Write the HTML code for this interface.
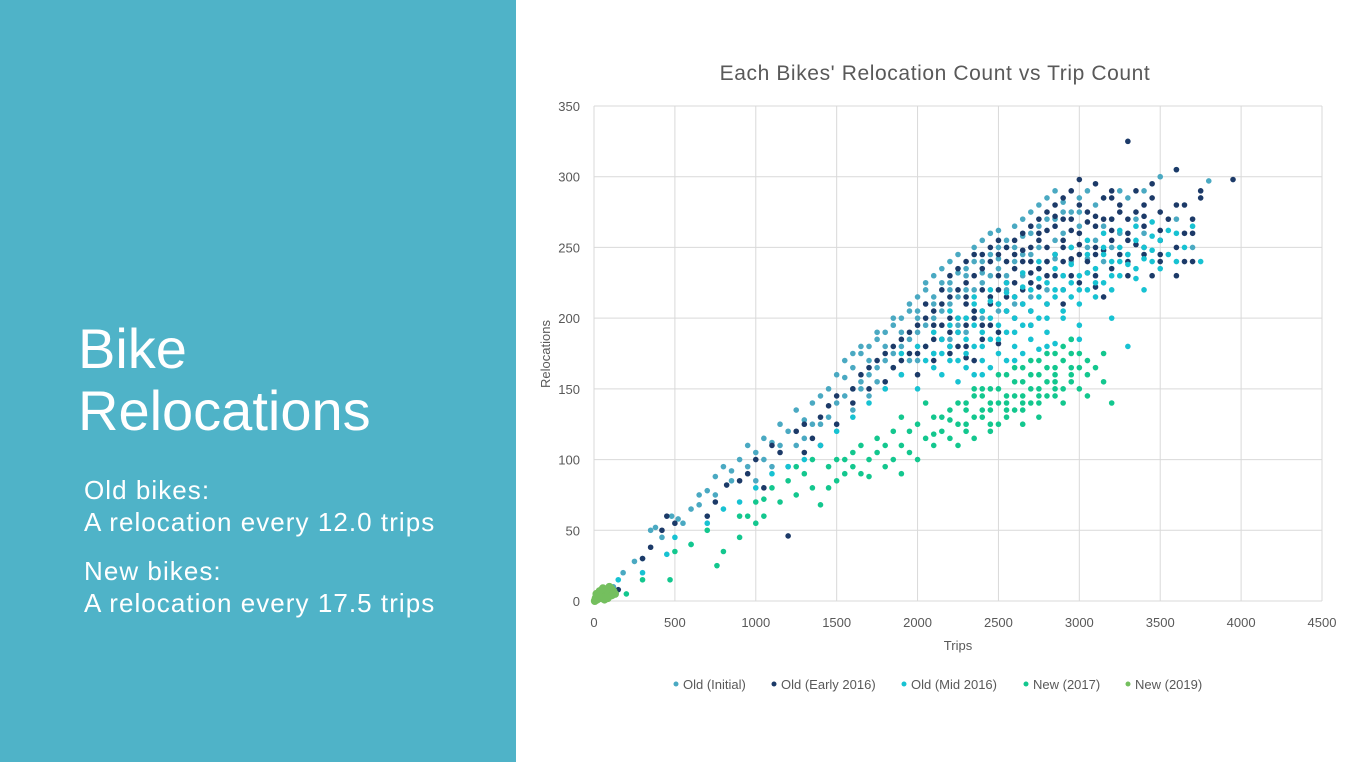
<!DOCTYPE html>
<html><head><meta charset="utf-8"><style>
body{margin:0;width:1358px;height:762px;overflow:hidden;background:#fff;font-family:"Liberation Sans",sans-serif}
#left{position:absolute;left:0;top:0;width:516px;height:762px;background:#4fb3c8;color:#fff}
#chart{position:absolute;left:0;top:0}
</style></head><body>
<div id="left">
<div style="position:absolute;left:78px;top:318px;font-size:56px;line-height:62px;letter-spacing:0px">Bike<br>Relocations</div>
<div style="position:absolute;left:84px;top:474px;font-size:26px;line-height:32px;letter-spacing:1.05px">Old bikes:<br>A relocation every 12.0 trips</div>
<div style="position:absolute;left:84px;top:555px;font-size:26px;line-height:32px;letter-spacing:1.05px">New bikes:<br>A relocation every 17.5 trips</div>
</div>
<svg id="chart" width="1358" height="762"></svg>
<script>
const xTicks=[0,500,1000,1500,2000,2500,3000,3500,4000,4500];
const yTicks=[0,50,100,150,200,250,300,350];
const seriesNames=["Old (Initial)","Old (Early 2016)","Old (Mid 2016)","New (2017)","New (2019)"];
const seriesColors=["#4aa9c2","#1c3a68","#17c2d2","#13c78e","#74bf5e"];
const oldInitial=[[120,10],[180,20],[250,28],[300,30],[350,50],[380,52],[420,45],[480,60],[520,58],[600,65],[650,75],[700,78],[750,88],[800,95],[850,92],[900,100],[950,110],[1000,105],[1050,115],[1100,112],[1150,125],[1200,120],[1250,135],[1300,128],[1350,140],[1400,145],[1450,150],[1500,160],[1550,158],[1600,165],[1650,175],[1700,170],[1750,185],[1800,190],[1850,195],[1900,200],[1950,210],[2000,215],[2050,220],[2100,230],[2150,225],[2200,240],[2250,245],[2300,235],[2350,250],[2400,255],[2450,260],[2500,262],[2550,250],[2600,265],[2650,270],[2700,275],[2750,280],[2800,285],[2850,290],[2900,282],[3000,275],[3100,280],[3200,270],[3300,285],[3400,290],[3500,300],[3600,305],[3800,297],[1300,115],[1400,125],[1500,140],[1550,145],[1600,150],[1650,155],[1700,160],[1750,165],[1800,170],[1850,175],[1900,180],[1950,185],[2000,190],[2050,195],[2100,200],[2150,205],[2200,210],[2250,215],[2300,200],[2350,220],[2400,225],[2450,230],[2500,235],[2550,220],[2600,240],[2650,230],[2700,245],[2750,250],[2800,240],[2850,255],[2900,260],[2950,250],[3000,265],[3050,250],[3100,255],[3150,240],[3200,250],[3300,245],[3400,260],[3500,255],[3600,270],[3700,250],[1800,150],[1900,160],[2000,170],[2100,175],[2200,185],[2300,190],[2400,200],[2500,205],[2600,210],[2700,215],[2800,220],[2900,230],[1700,145],[1600,135],[1200,95],[1100,95],[1000,85],[2000,200],[2100,215],[2200,225],[2300,230],[2400,240],[2500,250],
[1550,170],[1650,180],[1750,190],[1850,200],[1950,205],[2050,225],[2150,235],[2250,232],[2350,240],[2450,245],[2550,255],[2650,258],[2750,265],[2850,270],[2950,275],[3050,290],[3150,285],[3250,290],[1450,130],[1350,125],[1250,110],[1150,110],[1050,100],[950,95],[850,85],[750,75],[650,68],[550,55],[1650,150],[1750,155],[1850,165],[1950,170],[2050,180],[2150,185],[2250,195],[2350,205],[2450,215],[2550,230],[2650,245],[2750,235],[2850,242],[2950,240],[3050,242],[3150,265],[3250,260],[3350,270],[1600,175],[1700,180],[1800,180],[1900,190],[2000,205],[2100,210],[2200,220],[2300,220],[2400,232],[2500,242],[2600,250],[2700,260],[2800,270],[2900,275],[3000,285]];
const oldEarly=[[100,10],[150,8],[300,30],[350,38],[420,50],[450,60],[500,55],[700,60],[750,70],[820,82],[900,85],[950,90],[1000,100],[1050,80],[1100,110],[1150,105],[1200,46],[1250,120],[1300,125],[1350,115],[1400,130],[1450,138],[1500,145],[1600,150],[1650,160],[1700,165],[1750,170],[1800,175],[1850,180],[1900,185],[1950,190],[2000,195],[2050,200],[2100,205],[2150,210],[2200,215],[2250,220],[2300,225],[2350,230],[2400,235],[2450,240],[2500,245],[2550,250],[2600,255],[2650,260],[2700,265],[2750,270],[2800,275],[2850,280],[2900,285],[2950,290],[3000,298],[3100,295],[3200,285],[3300,325],[3400,280],[3500,275],[3600,305],[3650,280],[3700,270],[3950,298],[1900,170],[2000,175],[2100,185],[2200,190],[2300,195],[2400,205],[2500,210],[2600,215],[2700,225],[2800,230],[2900,240],[3000,245],[3100,250],[3200,255],[3300,260],[3400,265],[3500,255],[3600,250],[3650,240],[2000,160],[2100,170],[2200,175],[2300,180],[2400,185],[2500,190],[2600,200],[2700,205],[2800,210],[2900,220],[3000,225],[3100,230],[3200,235],[3300,240],[3400,245],[2200,200],[2300,210],[2400,220],[2500,230],[2600,235],[2700,240],[2800,250],[2900,255],[3000,260],[3100,265],[3200,270],[3300,270],[3400,250],[3500,240],[3600,230],[2250,180],[2350,170],[2450,195],[2550,205],[2650,220],[2750,235],[2850,245],[2950,230],[3050,240],[3150,215],[1800,155],[1700,150],[1600,140],[1500,125],[1400,110],[1300,105],
[2150,185],[2250,200],[2350,205],[2450,215],[2550,225],[2650,240],[2750,255],[2850,265],[2950,270],[3050,275],[3150,285],[3250,275],[3350,290],[3450,285],[3550,270],[3650,260],[3750,285],[2100,195],[2200,180],[2300,215],[2400,195],[2500,220],[2600,225],[2700,232],[2800,240],[2900,250],[3000,252],[3100,245],[3200,262],[3300,255],[3400,272],[3500,262],[3600,280],[3700,260],[3750,290],[2050,180],[2150,195],[2250,190],[2350,200],[2450,210],[2550,215],[2650,210],[2750,222],[2850,230],[2950,242],[3050,232],[3150,248],[3250,245],[3350,252],[3450,230],[2200,230],[2300,240],[2400,245],[2500,255],[2600,245],[2700,250],[2800,262],[2900,270],[3000,280],[3100,272],[3200,290],[1950,175],[1850,165],[2050,210],[2150,220],[2250,235],[2350,245],[2450,250],[2550,240],[2650,248],[2750,260],[2850,272],[2950,262],[3050,268],[3150,270],[3250,280],[3350,275],[3450,295],[2300,172],[2500,182],[2700,195],[2900,210],[3100,222],[3300,230],[3500,245],[3700,240]];
const oldMid=[[150,15],[300,20],[450,33],[500,45],[600,40],[700,55],[800,65],[900,70],[1000,80],[1100,90],[1200,95],[1300,100],[1400,110],[1500,120],[1600,130],[1700,140],[1800,150],[1900,160],[2000,150],[2050,170],[2100,165],[2150,175],[2200,180],[2250,170],[2300,185],[2350,180],[2400,190],[2450,185],[2500,195],[2550,190],[2600,200],[2650,195],[2700,205],[2750,200],[2800,210],[2850,215],[2900,220],[2950,225],[3000,230],[3050,220],[3100,235],[3150,225],[3200,240],[3250,230],[3300,245],[3350,235],[3400,250],[3450,240],[3500,255],[3550,245],[3600,260],[3700,265],[3750,240],[2200,195],[2300,200],[2400,205],[2500,210],[2600,215],[2700,220],[2800,225],[2900,230],[3000,210],[3100,215],[3200,220],[2300,165],[2400,170],[2500,175],[2600,180],[2700,185],[2800,190],[2900,200],[3000,195],[3300,180],[2100,190],[2200,205],[2350,215],[2450,220],[2550,225],[2650,232],[2750,240],[2850,245],[2950,250],[3050,255],[3150,260],[3250,262],[3350,265],[3450,268],[2000,180],[1900,175],[2150,160],[2250,155],[2350,160],[2450,165],[2550,170],[2650,175],[2750,178],[2850,182],[2950,185],
[2150,185],[2250,190],[2350,195],[2450,200],[2550,205],[2650,210],[2750,215],[2850,220],[2950,215],[3050,232],[3150,245],[3250,250],[3350,255],[3450,258],[3550,262],[3650,250],[2200,170],[2300,175],[2400,180],[2500,185],[2600,190],[2700,195],[2800,200],[2900,205],[3000,220],[3100,225],[3200,230],[3300,238],[3400,242],[3500,235],[3600,240],[2100,175],[2250,200],[2350,210],[2450,212],[2550,218],[2650,222],[2750,228],[2850,235],[2950,238],[3050,245],[3150,250],[3250,240],[3350,228],[3450,248],[2400,160],[2600,170],[2800,180],[3000,185],[3200,200],[3400,220]];
const new2017=[[200,5],[300,15],[470,15],[500,35],[600,40],[700,50],[760,25],[800,35],[900,45],[950,60],[1000,70],[1050,72],[1100,80],[1200,85],[1250,75],[1300,90],[1350,80],[1400,68],[1450,95],[1500,100],[1550,90],[1600,105],[1650,110],[1700,100],[1750,115],[1800,95],[1850,120],[1900,110],[1950,105],[2000,125],[2050,115],[2100,130],[2150,120],[2200,135],[2250,125],[2300,140],[2350,130],[2400,145],[2450,135],[2500,150],[2550,140],[2600,155],[2650,145],[2700,160],[2750,150],[2800,165],[2850,155],[2900,170],[2950,160],[3000,175],[3050,145],[3100,165],[3150,155],[3200,140],[2400,130],[2450,150],[2500,125],[2550,160],[2600,135],[2650,165],[2700,140],[2750,170],[2800,145],[2850,175],[2900,150],[2950,185],[3000,150],[2300,120],[2200,115],[2100,110],[2000,100],[1900,90],[1800,110],[2600,145],[2700,150],[2800,155],[2500,140],[2400,135],[2300,125],[2200,128],[2100,118],[2900,140],[3050,160],[2350,145],[2650,125],[2750,130],[2850,160],[2950,165],[1500,85],[1600,95],[1700,88],[1900,130],[2050,140],
[2250,140],[2350,150],[2450,140],[2550,145],[2650,155],[2750,160],[2850,150],[2950,175],[2450,125],[2550,130],[2650,135],[2750,145],[2850,145],[2950,155],[3050,170],[3150,175],[2300,135],[2400,150],[2500,160],[2600,165],[2700,170],[2800,175],[2900,180],[3000,165],[2150,130],[2250,110],[2350,115],[2450,120],[2550,135],[2650,140],[2750,140],[2850,165],[1950,120],[1850,100],[1750,105],[1650,90],[1550,100],[1450,80],[1350,100],[1250,95],[1150,70],[1050,60],[900,60],[1000,55]];
const new2019=[[5,0],[10,2],[20,1],[25,4],[30,3],[40,5],[45,2],[50,6],[60,4],[70,7],[75,3],[80,8],[90,5],[100,6],[105,9],[110,4],[120,7],[130,5],[35,7],[55,9],[65,1],[85,2],[95,10],[15,5]];
const allSeries=[oldInitial,oldEarly,oldMid,new2017,new2019];

const X0=594,X1=1322,Y0=601,Y1=106;
const sx=v=>X0+(v-0)/(4500)*(X1-X0);
const sy=v=>Y0-(v-0)/(350)*(Y0-Y1);
const svg=document.getElementById('chart');
const NS='http://www.w3.org/2000/svg';
function mk(t,a,txt){const e=document.createElementNS(NS,t);for(const k in a)e.setAttribute(k,a[k]);if(txt!=null)e.textContent=txt;svg.appendChild(e);return e;}

let e=mk('text',{x:935,y:80,'text-anchor':'middle','font-size':21,fill:'#595959','letter-spacing':'0.6'},"Each Bikes' Relocation Count vs Trip Count");


xTicks.forEach(t=>{
 let g=mk('line',{x1:sx(t),x2:sx(t),y1:Y1,y2:Y0,stroke:'#d9d9d9','stroke-width':1});
 
 
 let l=mk('text',{x:sx(t),y:627,'text-anchor':'middle','font-size':13,fill:'#595959'},String(t));
 
 
});
yTicks.forEach(t=>{
 let g=mk('line',{x1:X0,x2:X1,y1:sy(t),y2:sy(t),stroke:'#d9d9d9','stroke-width':1});
 
 
 let l=mk('text',{x:580,y:sy(t)+5,'text-anchor':'end','font-size':13,fill:'#595959'},String(t));
 
 
});
e=mk('text',{x:958,y:650,'text-anchor':'middle','font-size':13,fill:'#595959'},'Trips');


e=mk('text',{x:550,y:354,'text-anchor':'middle','font-size':13,fill:'#595959',transform:'rotate(-90 550 354)'},'Relocations');


allSeries.forEach((s,i)=>{
 s.forEach(p=>{
  const c=mk('circle',{cx:sx(p[0]),cy:sy(p[1]),r:i===4?4:2.8,fill:seriesColors[i]});
  
  
 });
});
const legX=[673,771,901,1023,1125];
seriesNames.forEach((n,i)=>{
 const c=mk('circle',{cx:legX[i]+3,cy:684,r:2.5,fill:seriesColors[i]});
 
 
 const t=mk('text',{x:legX[i]+10,y:689,'font-size':13,fill:'#595959'},n);
 
 
});
</script>
</body></html>
